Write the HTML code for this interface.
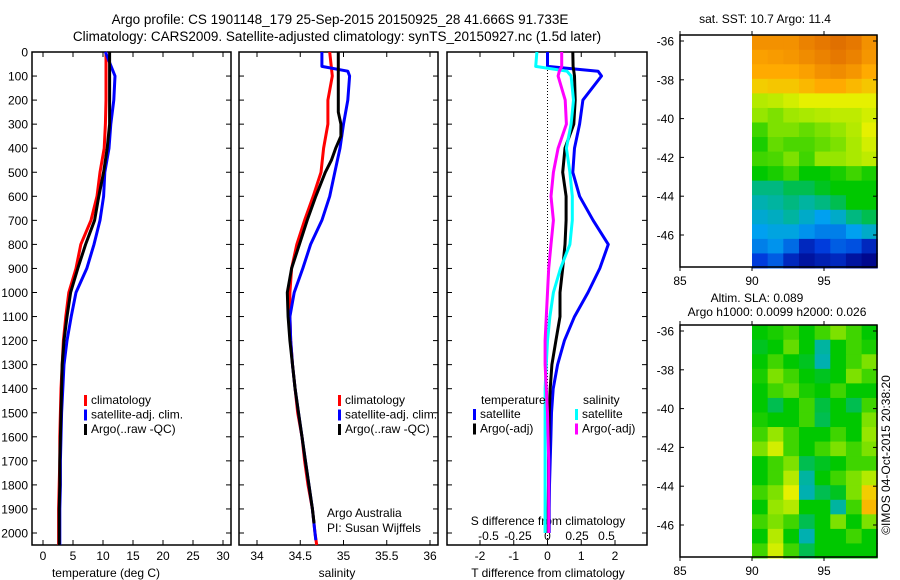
<!DOCTYPE html>
<html><head><meta charset="utf-8"><style>
html,body{margin:0;padding:0;background:#fff;}
svg{display:block;font-family:"Liberation Sans",sans-serif;}
</style></head><body>
<svg id="fig" width="900" height="580" viewBox="0 0 900 580">
<text x="340" y="24" font-size="13.5" text-anchor="middle">Argo profile: CS 1901148_179 25-Sep-2015 20150925_28 41.666S 91.733E</text>
<text x="337" y="41" font-size="13.5" text-anchor="middle">Climatology: CARS2009. Satellite-adjusted climatology: synTS_20150927.nc (1.5d later)</text>
<text x="765" y="23" font-size="12" text-anchor="middle">sat. SST: 10.7 Argo: 11.4</text>
<text x="757" y="302" font-size="12" text-anchor="middle">Altim. SLA: 0.089</text>
<text x="777" y="316" font-size="12" text-anchor="middle">Argo h1000: 0.0099 h2000: 0.026</text>
<text transform="translate(890,455) rotate(-90)" font-size="12" text-anchor="middle">©IMOS 04-Oct-2015 20:38:20</text>
<text x="106" y="577" font-size="12" text-anchor="middle">temperature (deg C)</text>
<text x="337" y="577" font-size="12" text-anchor="middle">salinity</text>
<text x="548" y="577" font-size="12" text-anchor="middle">T difference from climatology</text>
<text x="548" y="525" font-size="12" text-anchor="middle">S difference from climatology</text>
<text x="327" y="517" font-size="12">Argo Australia</text>
<text x="327" y="532" font-size="12">PI: Susan Wijffels</text>
</svg>
<script>
// ---------- data ----------
const depths = [0,100,200,300,400,500,600,700,800,900,1000,1100,1200,1300,1400,1500,1600,1700,1800,1900,2000,2050];
const tempClim = [10.5,10.5,10.5,10.4,10.2,9.5,9.0,8.0,6.3,5.5,4.3,3.8,3.4,3.2,3.0,2.9,2.8,2.8,2.7,2.6,2.6,2.6];
const tempSat  = [10.4,12.0,11.8,11.3,11.0,10.3,10.1,9.5,8.5,7.3,5.5,4.7,4.0,3.5,3.3,3.1,3.0,2.9,2.9,2.8,2.8,2.8];
const tempArgo = [11.1,11.1,11.1,11.1,10.7,10.1,9.3,8.6,7.1,5.8,4.6,4.0,3.5,3.2,3.1,3.0,2.9,2.8,2.8,2.7,2.7,2.7];
const salClim = [34.84,34.87,34.82,34.82,34.77,34.74,34.65,34.55,34.46,34.40,34.38,34.38,34.39,34.41,34.44,34.47,34.52,34.55,34.59,34.64,34.67,34.69];
const salSatDepths = [0,60,80,100,200,300,400,500,600,700,800,900,1000,1100,1200,1300,1400,1500,1600,1700,1800,1900,2000,2030];
const salSat = [34.75,34.75,35.05,35.07,35.05,35.00,34.96,34.90,34.84,34.75,34.62,34.53,34.43,34.38,34.39,34.41,34.44,34.48,34.52,34.56,34.60,34.64,34.67,34.68];
const salArgoDepths = [0,250,300,350,400,450,500,600,700,800,900,1000,1100,1200,1300,1400,1500,1600,1700,1800,1900,1960];
const salArgo = [34.94,34.94,34.97,34.97,34.91,34.86,34.79,34.68,34.58,34.49,34.40,34.35,34.36,34.38,34.41,34.44,34.48,34.52,34.56,34.60,34.64,34.66];
const diffDepths = [0,60,80,100,200,300,400,500,600,700,800,900,1000,1100,1200,1300,1400,1500,1600,1700,1800,1900,2000];
const tDiffSat  = [0,0,1.5,1.6,1.05,0.95,0.8,0.75,0.95,1.35,1.8,1.55,1.2,0.8,0.5,0.3,0.17,0.12,0.1,0.08,0.06,0.05,0.05];
const tDiffArgo = [0.75,0.76,0.78,0.8,0.82,0.78,0.52,0.45,0.55,0.55,0.52,0.45,0.37,0.37,0.25,0.13,0.08,0.05,0.04,0.03,0.03,0.02,0.02];
const sDiffSat  = [-0.09,-0.1,0.165,0.2,0.22,0.2,0.16,0.19,0.21,0.21,0.19,0.11,0.05,0.02,0,-0.01,-0.02,-0.02,-0.02,-0.02,-0.02,-0.02,-0.02];
const sDiffArgo = [0.12,0.12,0.1,0.09,0.15,0.16,0.09,0.05,0.03,0.05,0.03,0.01,0,-0.01,-0.02,-0.02,-0.01,0,0.005,0.01,0.01,0.01,0.01];
const tempTicks = [0,5,10,15,20,25,30];
const salTicks = [34,34.5,35,35.5,36];
const salTickLabels = ['34','34.5','35','35.5','36'];
const tDiffTicks = [-2,-1,0,1,2];
const sDiffTicks = [-0.5,-0.25,0,0.25,0.5];
const sDiffTickLabels = ['-0.5','-0.25','0','0.25','0.5'];
const depthTicks = [0,100,200,300,400,500,600,700,800,900,1000,1100,1200,1300,1400,1500,1600,1700,1800,1900,2000];
const latTicks = [-36,-38,-40,-42,-44,-46];
const lonTicks = [85,90,95];
const sstGrid = [
[.85,.85,.85,.88,.9,.92,.9,.85],
[.82,.83,.84,.86,.88,.9,.88,.84],
[.8,.8,.8,.82,.85,.86,.84,.8],
[.75,.76,.76,.78,.8,.8,.78,.76],
[.65,.66,.68,.7,.7,.7,.7,.7],
[.62,.6,.63,.64,.65,.66,.66,.68],
[.55,.6,.6,.58,.6,.62,.65,.7],
[.52,.58,.56,.56,.58,.6,.64,.68],
[.55,.56,.6,.55,.62,.62,.64,.66],
[.5,.52,.55,.5,.5,.52,.55,.52],
[.42,.42,.45,.45,.48,.5,.5,.5],
[.38,.4,.42,.4,.42,.45,.5,.5],
[.34,.36,.4,.35,.3,.35,.42,.45],
[.3,.32,.32,.28,.25,.25,.3,.35],
[.25,.28,.22,.1,.15,.2,.18,.1],
[.15,.2,.1,.05,.08,.1,.05,.02]];
const slaGrid = [
[.5,.52,.55,.5,.55,.6,.55,.5],
[.48,.5,.58,.5,.4,.5,.55,.52],
[.5,.55,.5,.48,.38,.5,.55,.6],
[.52,.6,.55,.5,.48,.5,.6,.55],
[.5,.55,.58,.52,.5,.55,.5,.5],
[.5,.45,.5,.55,.46,.5,.45,.55],
[.52,.5,.5,.55,.45,.5,.5,.6],
[.55,.62,.55,.5,.5,.55,.5,.62],
[.6,.68,.55,.5,.55,.6,.55,.6],
[.5,.55,.6,.45,.48,.5,.55,.55],
[.5,.55,.65,.4,.5,.55,.6,.65],
[.55,.6,.7,.38,.45,.48,.6,.75],
[.5,.62,.65,.5,.5,.4,.55,.78],
[.55,.6,.55,.45,.5,.6,.5,.6],
[.5,.65,.5,.38,.5,.5,.55,.5],
[.55,.68,.55,.45,.5,.5,.5,.5]];

// ---------- helpers ----------
const NS='http://www.w3.org/2000/svg';
const svg=document.getElementById('fig');
function mk(tag,attrs,parent){const e=document.createElementNS(NS,tag);for(const k in attrs)e.setAttribute(k,attrs[k]);(parent||svg).appendChild(e);return e;}
const yTop=52,yBot=545;
const yDepth=d=>yTop+d*0.2405;
const xTemp=v=>43+v*6;
const xSal=v=>257+(v-34)*86.5;
const xTD=v=>547.5+v*33.75;
const xSD=v=>547.5+v*118;

function panelBox(x0,x1,name){
  const r=mk('rect',{x:x0,y:yTop,width:x1-x0,height:yBot-yTop,fill:'none',stroke:'#000','stroke-width':1.5});
  
  
  depthTicks.forEach(d=>{
    mk('line',{x1:x0,x2:x0+5,y1:yDepth(d),y2:yDepth(d),stroke:'#000'});
    mk('line',{x1:x1,x2:x1-5,y1:yDepth(d),y2:yDepth(d),stroke:'#000'});
  });
}
function xTicks(vals,labels,fx,name,ty){
  vals.forEach((v,i)=>{
    const x=fx(v);
    mk('line',{x1:x,x2:x,y1:yBot,y2:yBot-5,stroke:'#000'});
    mk('line',{x1:x,x2:x,y1:yTop,y2:yTop+5,stroke:'#000'});
    const t=mk('text',{x:x,y:ty||560,'font-size':12,'text-anchor':'middle'});
    t.textContent=labels[i];
    
    
  });
}
function line(xs,ds,fx,color,name,w){
  const pts=xs.map((v,i)=>fx(v).toFixed(1)+','+yDepth(ds[i]).toFixed(1)).join(' ');
  const p=mk('polyline',{points:pts,fill:'none',stroke:color,'stroke-width':w||3,'stroke-linejoin':'round'});
  
  
}
function legend(x,y,items,name){
  items.forEach((it,i)=>{
    mk('rect',{x:x,y:y+i*14.5-9,width:3,height:11,fill:it[0]});
    const t=mk('text',{x:x+7,y:y+i*14.5,'font-size':12});
    t.textContent=it[1];
    
    
  });
}

// depth labels
depthTicks.forEach(d=>{
  const t=mk('text',{x:28,y:yDepth(d)+4.5,'font-size':12,'text-anchor':'end'});
  t.textContent=d;
  
  
});

// panel 1 temperature
panelBox(32,231,'temperature-panel');
xTicks(tempTicks,tempTicks.map(String),xTemp,'temperature-tick-label');
line(tempClim,depths,xTemp,'#f00','temp-climatology-line');
line(tempSat,depths,xTemp,'#00f','temp-satellite-line');
line(tempArgo,depths,xTemp,'#000','temp-argo-line');
legend(84,404,[['#f00','climatology'],['#00f','satellite-adj. clim.'],['#000','Argo(..raw -QC)']],'temperature-legend-entry');

// panel 2 salinity
panelBox(239,438,'salinity-panel');
xTicks(salTicks,salTickLabels,xSal,'salinity-tick-label');
line(salClim,depths,xSal,'#f00','sal-climatology-line');
line(salSat,salSatDepths,xSal,'#00f','sal-satellite-line');
line(salArgo,salArgoDepths,xSal,'#000','sal-argo-line');
legend(338,404,[['#f00','climatology'],['#00f','satellite-adj. clim.'],['#000','Argo(..raw -QC)']],'salinity-legend-entry');

// panel 3 differences
panelBox(447,647,'difference-panel');
mk('line',{x1:xTD(0),x2:xTD(0),y1:yTop,y2:yBot,stroke:'#000','stroke-dasharray':'1,2'});
xTicks(tDiffTicks,tDiffTicks.map(String),xTD,'t-diff-tick-label');
sDiffTicks.forEach((v,i)=>{
  const t=mk('text',{x:xSD(v),y:540,'font-size':12,'text-anchor':'middle'});
  t.textContent=sDiffTickLabels[i];
  
  
});
line(tDiffSat,diffDepths,xTD,'#00f','t-diff-satellite-line');
line(tDiffArgo,diffDepths,xTD,'#000','t-diff-argo-line');
line(sDiffSat,diffDepths,xSD,'#0ff','s-diff-satellite-line');
line(sDiffArgo,diffDepths,xSD,'#f0f','s-diff-argo-line');
{const t=mk('text',{x:481,y:404,'font-size':12});t.textContent='temperature';}
{const t=mk('text',{x:583,y:404,'font-size':12});t.textContent='salinity';}
legend(473,418,[['#00f','satellite'],['#000','Argo(-adj)']],'t-diff-legend-entry');
legend(575,418,[['#0ff','satellite'],['#f0f','Argo(-adj)']],'s-diff-legend-entry');

// ---------- maps ----------
const stops=[[0,[0,0,130]],[.15,[0,60,220]],[.3,[0,160,240]],[.4,[0,180,160]],[.5,[0,200,0]],[.62,[150,230,0]],[.7,[230,240,0]],[.8,[255,170,0]],[.9,[230,120,0]],[1,[200,80,0]]];
function cmap(v){
  for(let i=1;i<stops.length;i++){if(v<=stops[i][0]){const a=stops[i-1],b=stops[i],f=(v-a[0])/(b[0]-a[0]);
    return 'rgb('+a[1].map((c,k)=>Math.round(c+(b[1][k]-c)*f)).join(',')+')';}}
  return 'rgb(200,80,0)';
}
const mapX0=680,mapX1=877;
const xLon=l=>680+(l-85)*14.4;
function drawMap(y0,grid,name,cellName){
  const y1=y0+232;
  const yLat=la=>y0+6+(-36-la)*19.4;
  const latTop=-35.7,latBot=-47.7,lonL=90,lonR=98.7;
  const nr=grid.length,nc=grid[0].length;
  const g=mk('g',{});
  
  
  grid.forEach((row,r)=>row.forEach((v,c)=>{
    const la0=latTop+(latBot-latTop)*r/nr,la1=latTop+(latBot-latTop)*(r+1)/nr;
    const lo0=lonL+(lonR-lonL)*c/nc,lo1=lonL+(lonR-lonL)*(c+1)/nc;
    const cell=mk('rect',{x:xLon(lo0),y:yLat(la0),width:xLon(lo1)-xLon(lo0)+0.5,height:yLat(la1)-yLat(la0)+0.5,fill:cmap(v)},g);
    
    
  }));
  const b=mk('rect',{x:mapX0,y:y0,width:mapX1-mapX0,height:y1-y0,fill:'none',stroke:'#000','stroke-width':1.5});
  
  
  latTicks.forEach(la=>{
    const y=yLat(la);
    mk('line',{x1:mapX0,x2:mapX0+4,y1:y,y2:y,stroke:'#000'});
    mk('line',{x1:mapX1,x2:mapX1-4,y1:y,y2:y,stroke:'#000'});
    const t=mk('text',{x:674,y:y+4.5,'font-size':12,'text-anchor':'end'});
    t.textContent=la;
    
    
  });
  lonTicks.forEach(lo=>{
    const x=xLon(lo);
    mk('line',{x1:x,x2:x,y1:y1,y2:y1+4,stroke:'#000'});
    mk('line',{x1:x,x2:x,y1:y0,y2:y0-4,stroke:'#000'});
    const t=mk('text',{x:x,y:y1+18,'font-size':12,'text-anchor':'middle'});
    t.textContent=lo;
    
    
  });
}
drawMap(35,sstGrid,'sst-map','sst-cell');
drawMap(325,slaGrid,'sla-map','sla-cell');
</script>
</body></html>
